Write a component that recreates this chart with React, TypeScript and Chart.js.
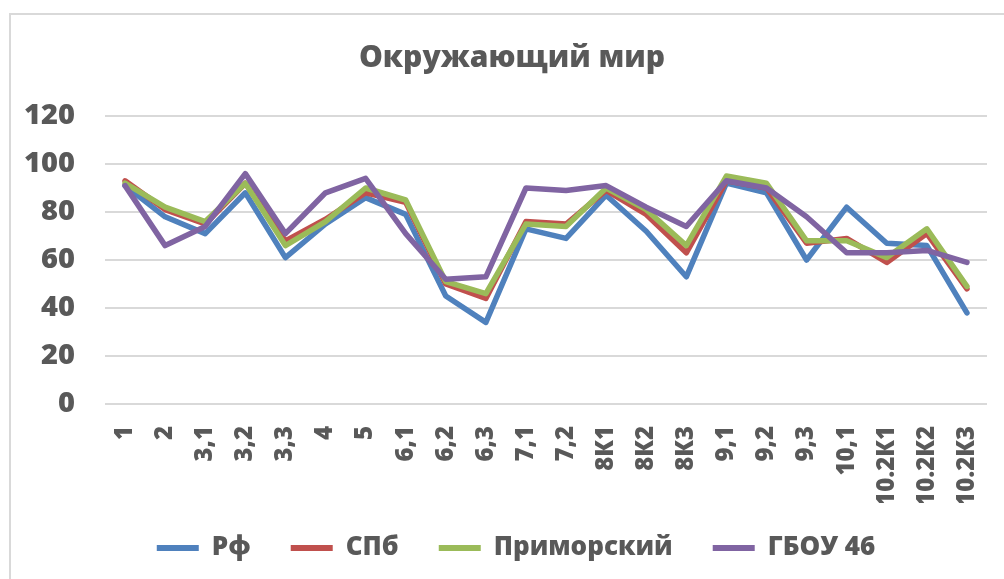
import React, { useEffect, useRef } from "react";
import { Chart, registerables } from "chart.js";

Chart.register(...registerables);

const categories = ["1", "2", "3,1", "3,2", "3,3", "4", "5", "6,1", "6,2", "6,3", "7,1", "7,2", "8К1", "8К2", "8К3", "9,1", "9,2", "9,3", "10,1", "10.2К1", "10.2К2", "10.2К3"];
const rfValues = [91, 78, 71, 88, 61, 75, 86, 79, 45, 34, 73, 69, 87, 72, 53, 92, 88, 60, 82, 67, 66, 38];
const spbValues = [93, 81, 75, 92, 68, 77, 88, 84, 50, 44, 76, 75, 89, 79, 63, 93, 90, 67, 69, 59, 71, 48];
const primValues = [92, 82, 76, 92, 66, 76, 90, 85, 51, 46, 75, 74, 90, 81, 66, 95, 92, 68, 68, 61, 73, 49];
const schoolValues = [91, 66, 74, 96, 71, 88, 94, 71, 52, 53, 90, 89, 91, 82, 74, 93, 90, 78, 63, 63, 64, 59];
const seriesNames = ["Рф", "СПб", "Приморский", "ГБОУ 46"];
const seriesColors = ["#4F81BD", "#C0504D", "#9BBB59", "#8064A2"];
const yTicks = [0, 20, 40, 60, 80, 100, 120];
const titleText = "Окружающий мир";

const FONT = "'Open Sans', 'DejaVu Sans', sans-serif";
const TEXT = "#595959";

// layout placement (styling only)
const LEGEND_TOP = 495;
const LEGEND_CENTER_X = 516;
const TITLE_CENTER_X = 512;

const placementPlugin = {
  id: "placement",
  afterLayout(chart: any) {
    const lg = chart.legend;
    if (lg) {
      const dy = LEGEND_TOP - lg.top;
      lg.top += dy;
      lg.bottom += dy;
      const dx = LEGEND_CENTER_X - (lg.left + lg.right) / 2;
      lg.left += dx;
      lg.right += dx;
    }
    const tb = chart.titleBlock;
    if (tb) {
      const dx = TITLE_CENTER_X - (tb.left + tb.right) / 2;
      tb.left += dx;
      tb.right += dx;
    }
  },
};

export default function App() {
  const ref = useRef<HTMLCanvasElement | null>(null);
  useEffect(() => {
    if (!ref.current) return;
    const values = [rfValues, spbValues, primValues, schoolValues];
    const chart = new Chart(ref.current, {
      type: "line",
      data: {
        labels: categories,
        datasets: values.map((v, i) => ({
          label: seriesNames[i],
          data: v,
          borderColor: seriesColors[i],
          backgroundColor: seriesColors[i],
          borderWidth: 5.5,
          pointRadius: 0,
          tension: 0,
          borderJoinStyle: "round" as const,
          borderCapStyle: "round" as const,
          order: 3 - i,
        })),
      },
      plugins: [placementPlugin],
      options: {
        responsive: false,
        animation: false,
        layout: { padding: { left: 25, right: 17, top: 0, bottom: 0 } },
        plugins: {
          title: {
            display: true,
            text: titleText,
            color: TEXT,
            font: { family: FONT, size: 30, weight: "800" },
            padding: { top: 40, bottom: 40 },
          },
          legend: {
            position: "bottom",
            labels: {
              color: TEXT,
              font: { family: FONT, size: 26, weight: "800" },
              boxWidth: 42,
              boxHeight: 6,
              padding: 40,
              sort: (a: any, b: any) => a.datasetIndex - b.datasetIndex,
              generateLabels: (c: any) =>
                Chart.defaults.plugins.legend.labels.generateLabels(c).map((l: any) => ({
                  ...l,
                  lineWidth: 0,
                  fillStyle: l.strokeStyle,
                })),
            },
          },
          tooltip: { enabled: false },
        },
        scales: {
          x: {
            offset: true,
            grid: { display: false, offset: true },
            border: { display: false },
            afterFit: (scale: any) => {
              scale.height = 99;
              scale.paddingLeft = 0;
              scale.paddingRight = 0;
            },
            ticks: {
              color: TEXT,
              font: { family: FONT, size: 24, weight: "800" },
              maxRotation: 90,
              minRotation: 90,
              autoSkip: false,
              padding: 14,
            },
          },
          y: {
            min: 0,
            max: 120,
            afterBuildTicks: (axis: any) => {
              axis.ticks = yTicks.map((v) => ({ value: v }));
            },
            afterFit: (scale: any) => {
              scale.width = 80;
            },
            grid: { color: "#D9D9D9", lineWidth: 2, drawTicks: false },
            border: { display: false },
            ticks: {
              color: TEXT,
              font: { family: FONT, size: 29, weight: "800" },
              padding: 30,
            },
          },
        },
      },
    });
    return () => chart.destroy();
  }, []);
  return (
    <div>
      <div style={{ position: "fixed", left: 0, top: 0, width: 1004, height: 579, background: "#fff" }}>
        <canvas ref={ref} width={1004} height={579} style={{ display: "block", width: 1004, height: 579 }} />
      </div>
      <div
        style={{
          position: "fixed",
          left: 9,
          top: 13,
          width: 2000,
          height: 2000,
          borderLeft: "2px solid #D9D9D9",
          borderTop: "2px solid #D9D9D9",
          pointerEvents: "none",
        }}
      />
    </div>
  );
}
